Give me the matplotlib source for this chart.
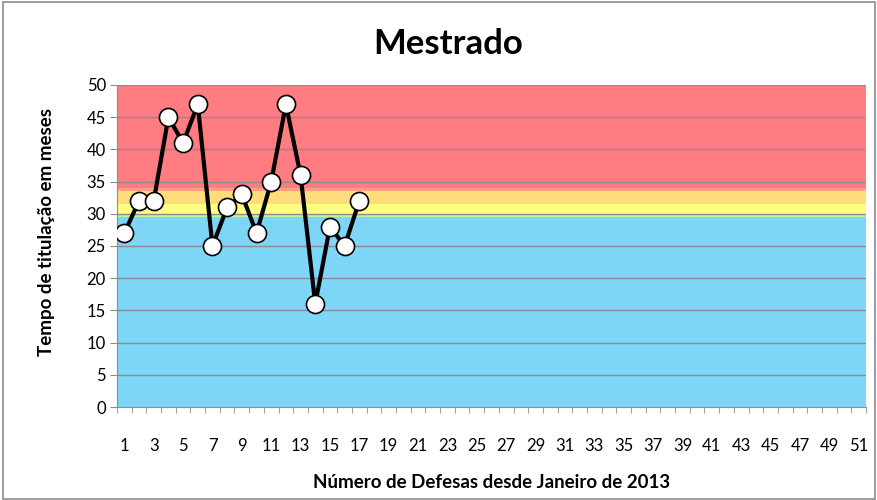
import matplotlib
matplotlib.use('Agg')
import matplotlib.pyplot as plt
import numpy as np

# data
defesa = list(range(1, 18))
meses = [27, 32, 32, 45, 41, 47, 25, 31, 33, 27, 35, 47, 36, 16, 28, 25, 32]
n_cat = 51
xtick_labels = [str(i) for i in range(1, n_cat + 1, 2)]

# background bands (lower, upper, colour)
bands = [(0, 29.5, '#7DD6F6'),
         (29.5, 30, '#C8F0A0'),
         (30, 31.5, '#FFFF80'),
         (31.5, 33.5, '#FFDC7C'),
         (33.5, 34, '#FF9E80'),
         (34, 50, '#FF7C80')]

plt.rcParams['font.family'] = ['Lato', 'DejaVu Sans']

fig = plt.figure(figsize=(8.78, 5), dpi=100)
ax = fig.add_axes([117/878, 93/500, 749/878, 322/500])

for lo, hi, c in bands:
    ax.axhspan(lo, hi, color=c, lw=0, zorder=0)

ax.set_yticks(np.arange(0, 51, 5))
for y in range(5, 51, 5):
    ax.axhline(y, color='#8C8C8C', lw=1.0, zorder=1)

ax.plot(defesa, meses, color='black', lw=3, marker='o', ms=13,
        mfc='white', mec='black', mew=1.2, zorder=3)

ax.set_xlim(0.5, n_cat + 0.5)
ax.set_ylim(0, 50)
ax.set_xticks(range(1, n_cat + 1, 2))
ax.set_xticklabels(xtick_labels)
ax.set_xticks(np.arange(0.5, n_cat + 1, 1), minor=True)
ax.tick_params(axis='x', which='major', length=0, pad=22, labelsize=12)
ax.tick_params(axis='x', which='minor', length=4, color='#8C8C8C', direction='out')
ax.tick_params(axis='y', length=5, color='#8C8C8C', labelsize=12, pad=3)

for s in ['top', 'right']:
    ax.spines[s].set_visible(False)
ax.spines['left'].set_color('#8C8C8C')
ax.spines['bottom'].set_color('#8C8C8C')

fig.text(47/878, 1 - 232/500, 'Tempo de titulação em meses', rotation=90,
         ha='center', va='center', fontsize=13.5, fontweight='bold')
fig.text(0.5 * (117 + 866) / 878, 17/500, 'Número de Defesas desde Janeiro de 2013',
         ha='center', va='center', fontsize=13.5, fontweight='bold')
fig.text(448/878, 1 - 44/500, 'Mestrado', ha='center', va='center',
         fontsize=25, fontweight='bold')

fig.patches.append(plt.Rectangle((0.003, 0.003), 0.994, 0.994, transform=fig.transFigure,
                                 fill=False, edgecolor='#8C8C8C', lw=1.2))

fig.savefig('out.png', dpi=100)
